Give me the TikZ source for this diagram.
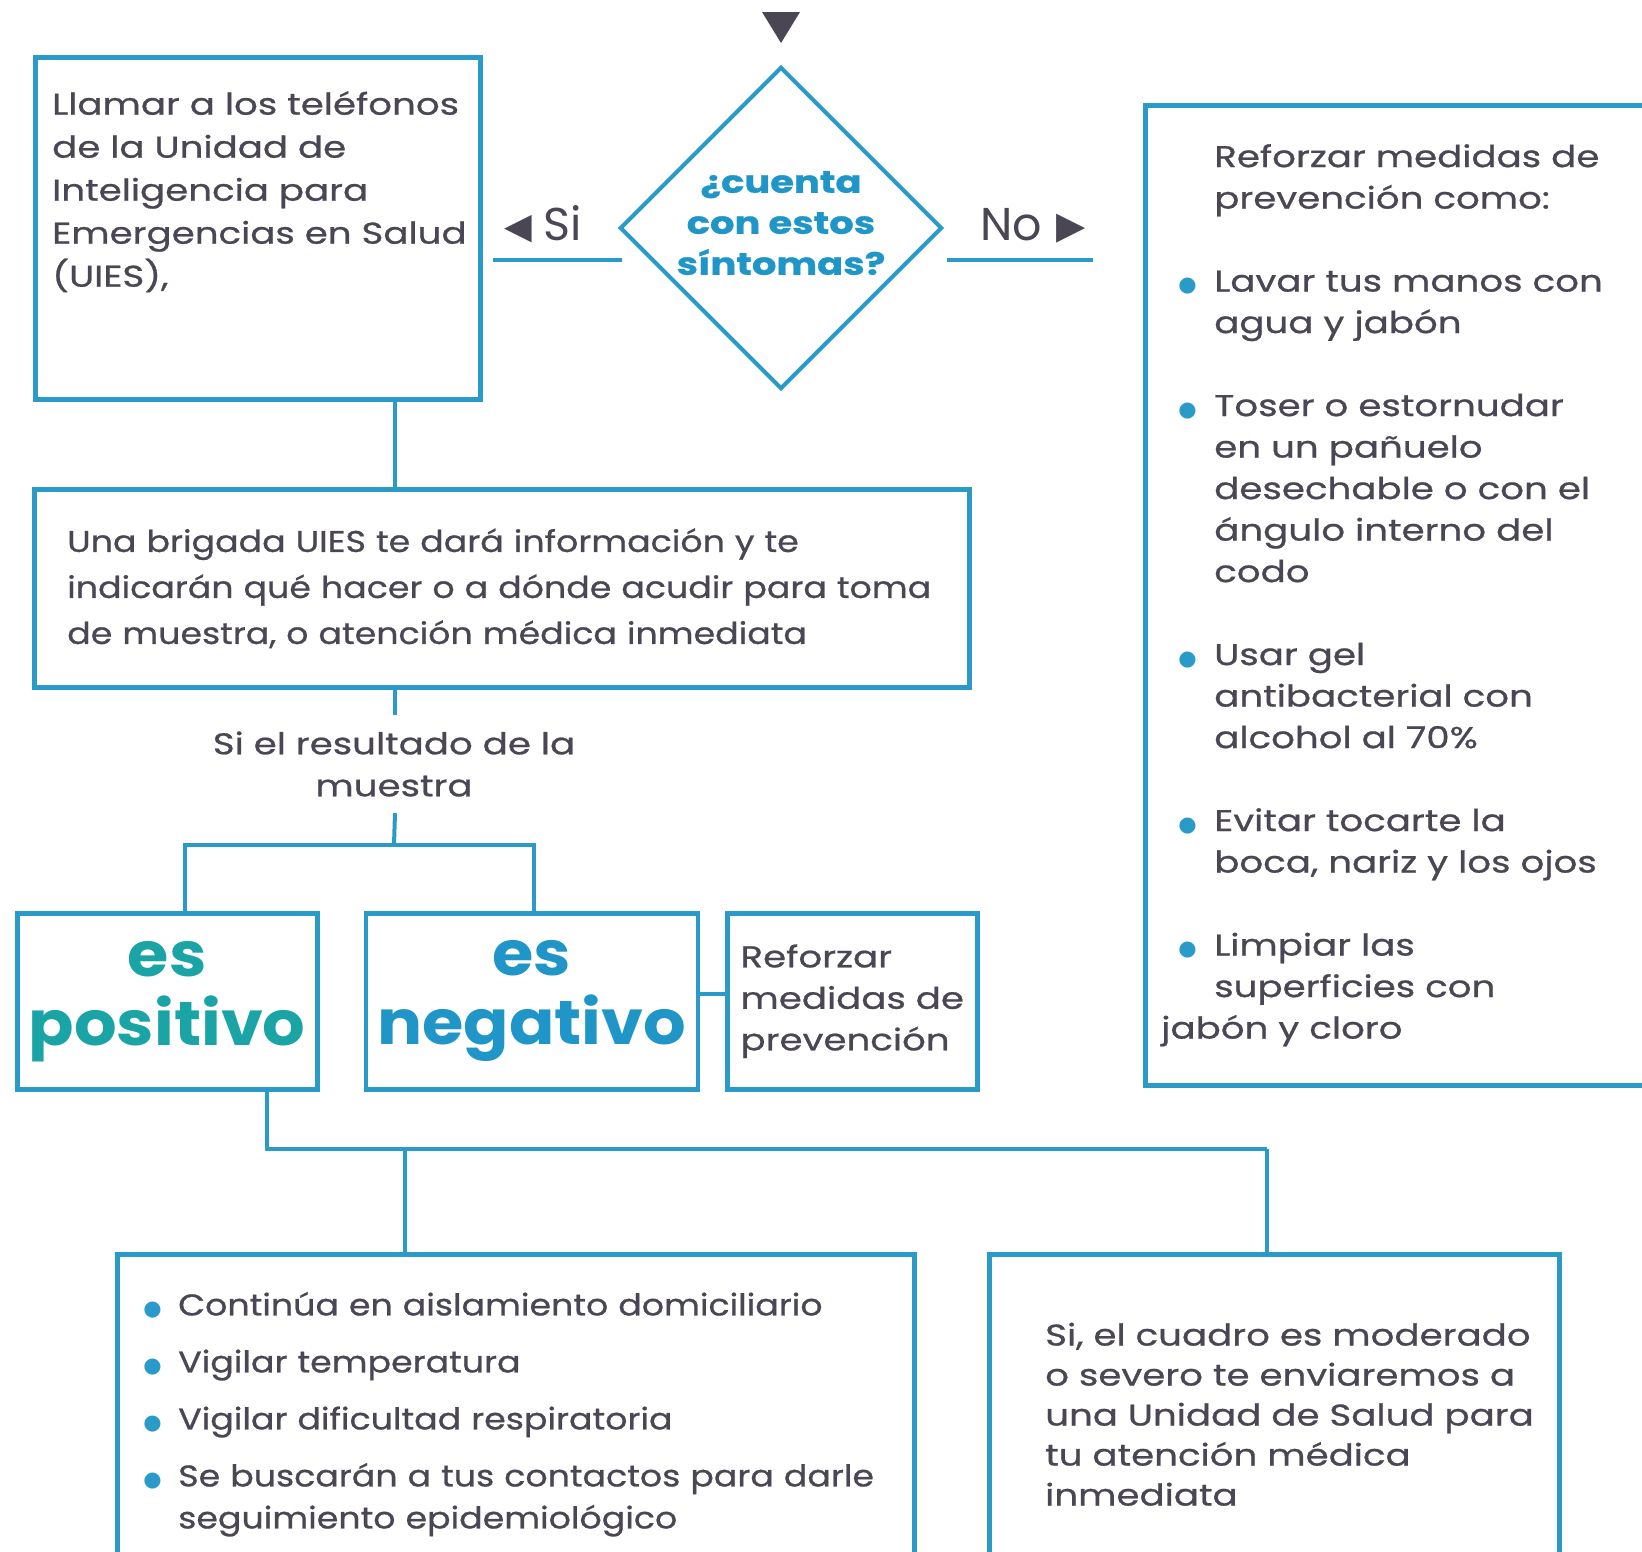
\documentclass[tikz,border=0pt]{standalone}
\usepackage{fontspec}
\setmainfont{Poppins}
\newfontfamily\anchafont{Poppins}[FakeStretch=1.24, FakeBold=0.8]
\newfontfamily\mediafont{Poppins}[FakeStretch=1.16, FakeBold=0.8]
\newfontfamily\bigfont{Poppins}[FakeStretch=1.08]
\newfontfamily\symfont{DejaVu Sans}
\usetikzlibrary{positioning}
\usetikzlibrary{shapes.geometric}

\definecolor{lineblue}{RGB}{42,155,200}
\definecolor{txtgray}{RGB}{74,70,84}
\definecolor{posteal}{RGB}{26,164,166}
\definecolor{negblue}{RGB}{32,150,200}

\newcommand{\cuerpo}{\anchafont\fontsize{30}{43}\selectfont}
\newcommand{\grande}{\bigfont\fontsize{62}{69}\selectfont\bfseries}
\newcommand{\punto}{\textcolor{lineblue}{\symfont\fontsize{21}{21}\selectfont ●}}
\newcommand{\itemR}{\makebox[53pt][l]{\hspace{17pt}\punto}}
\newcommand{\sangR}{\hspace*{53pt}}
\newcommand{\itemL}{\makebox[38pt][l]{\hspace{3pt}\punto}}
\newcommand{\sangL}{\hspace*{38pt}}
\newcommand{\izq}{\raisebox{2pt}{\symfont\fontsize{36}{36}\selectfont ◀}}
\newcommand{\der}{\raisebox{2pt}{\symfont\fontsize{38}{38}\selectfont ▶}}

\tikzset{
	box/.style={draw=lineblue, line width=4.5pt, rectangle, inner sep=0pt},
	link/.style={draw=lineblue, line width=4pt},
	txt/.style={text=txtgray, font=\cuerpo, align=left, inner sep=0pt},
	lbl/.style={text=txtgray, font=\fontsize{46}{46}\selectfont, inner sep=0pt},
}

\begin{document}
\begin{tikzpicture}[x=1pt, y=-1pt]
	\clip (0,0) rectangle (1642,1551);
	\fill[white] (0,0) rectangle (1642,1551);

	\fill[txtgray] (762,12) -- (800,12) -- (781,43) -- cycle;
	\node[diamond, draw=lineblue, line width=4pt, minimum width=320pt, minimum height=320pt, aspect=1, inner sep=0pt, align=center, text=negblue, text depth=10pt, font=\anchafont\fontsize{31}{41}\selectfont\bfseries](pregunta) at (781,228) {¿cuenta\\con estos\\síntomas?};

	\node[box, anchor=north west, minimum width=445pt, minimum height=342pt](llamar) at (33,55) {};
	\node[txt, below right=36pt and 19pt of llamar.north west](llamartxt) {Llamar a los teléfonos\\de la Unidad de\\Inteligencia para\\Emergencias en Salud\\(UIES),};

	\coordinate (siA) at (493,260);
	\coordinate (siB) at (622,260);
	\coordinate (noA) at (947,260);
	\coordinate (noB) at (1093,260);
	\node[lbl](si) at (543,224) {\izq\hspace{12pt}Si};
	\node[lbl](no) at (1033,226) {No\hspace{14pt}\der};

	\node[box, txt, anchor=north west, text width=485pt, inner xsep=16pt, minimum height=980pt, font=\anchafont\fontsize{30}{41.5}\selectfont](prevencion) at (1143,103) {\sangR Reforzar medidas de\\
		\sangR prevención como:\\[41.5pt]
		\itemR Lavar tus manos con\\
		\sangR agua y jabón\\[41.5pt]
		\itemR Toser o estornudar\\
		\sangR en un pañuelo\\
		\sangR desechable o con el\\
		\sangR ángulo interno del\\
		\sangR codo\\[41.5pt]
		\itemR Usar gel\\
		\sangR antibacterial con\\
		\sangR alcohol al 70\%\\[41.5pt]
		\itemR Evitar tocarte la\\
		\sangR boca, nariz y los ojos\\[41.5pt]
		\itemR Limpiar las\\
		\sangR superficies con\\
		jabón y cloro};

	\node[box, txt, anchor=north west, text width=869pt, inner xsep=33pt, minimum height=198pt, font=\mediafont\fontsize{30}{46}\selectfont](brigada) at (32,487) {Una brigada UIES te dará información y te\\indicarán qué hacer o a dónde acudir para toma\\de muestra, o atención médica inmediata};

	\node[txt, align=center, minimum height=98pt, font=\anchafont\fontsize{30}{42}\selectfont](resultado) at (394,764) {Si el resultado de la\\muestra};

	\node[box, anchor=north west, minimum width=300pt, minimum height=176pt, align=center, text=posteal, font=\grande](positivo) at (15,911) {es\\positivo};
	\node[box, right=44pt of positivo, minimum width=332pt, minimum height=176pt, align=center, text=negblue, font=\grande](negativo) {es\\negativo};
	\node[box, txt, right=25pt of negativo, minimum width=250pt, minimum height=176pt, font=\anchafont\fontsize{30}{41.5}\selectfont](refuerzo) {Reforzar\\medidas de\\prevención};

	\node[box, txt, anchor=north west, text width=751pt, inner xsep=23pt, minimum height=320pt, font=\mediafont\fontsize{30}{42}\selectfont](aislamiento) at (115,1252) {\itemL Continúa en aislamiento domiciliario\\[15pt]
		\itemL Vigilar temperatura\\[15pt]
		\itemL Vigilar dificultad respiratoria\\[15pt]
		\itemL Se buscarán a tus contactos para darle\\
		\sangL seguimiento epidemiológico};
	\node[box, anchor=north west, minimum width=570pt, minimum height=320pt](cuadro) at (987,1252) {};
	\node[txt, right=58pt of cuadro.west, font=\anchafont\fontsize{30}{40}\selectfont](cuadrotxt) {Si, el cuadro es moderado\\o severo te enviaremos a\\una Unidad de Salud para\\tu atención médica\\inmediata};

	\coordinate (tronco) at (395,0);
	\coordinate (rama) at (394,845);
	\coordinate (ramaPos) at (185,845);
	\coordinate (ramaNeg) at (534,845);
	\coordinate (salida) at (267,1149);
	\coordinate (bajoA) at (405,1149);
	\coordinate (bajoB) at (1267,1149);

	\draw[link] (siA) -- (siB);
	\draw[link] (noA) -- (noB);
	\draw[link] (llamar.south -| tronco) -- (brigada.north -| tronco);
	\draw[link] (brigada.south -| tronco) -- (resultado.north -| tronco);
	\draw[link] (resultado.south -| tronco) -- (rama);
	\draw[link] (positivo.north -| ramaPos) -- (ramaPos) -- (ramaNeg) -- (negativo.north -| ramaNeg);
	\draw[link] ([yshift=7pt]negativo.east) -- ([yshift=7pt]refuerzo.west);
	\draw[link] (positivo.south -| salida) -- (salida) -- (bajoB);
	\draw[link] (bajoA) -- (aislamiento.north -| bajoA);
	\draw[link] (bajoB) -- (cuadro.north -| bajoB);
\end{tikzpicture}
\end{document}
